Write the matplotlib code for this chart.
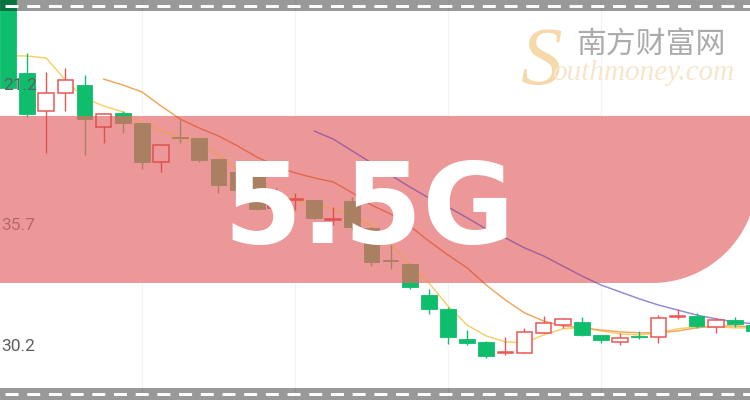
import numpy as np
import matplotlib
matplotlib.use("Agg")
import matplotlib.pyplot as plt
from matplotlib.patches import Rectangle, PathPatch
from matplotlib.path import Path
from matplotlib.lines import Line2D

plt.rcParams['lines.scale_dashes'] = False

# ---------------- data ----------------
opens = [45.61, 41.70, 40.11, 40.86, 41.20, 39.44, 40.02, 39.60, 37.97, 39.00,
         38.97, 38.09, 37.55, 37.67, 36.04, 36.37, 36.37, 35.55, 36.33, 35.20,
         33.83, 33.69, 32.38, 31.80, 30.54, 30.41, 29.93, 29.95, 30.79, 31.12,
         31.25, 30.70, 30.41, 30.64, 30.62, 31.44, 31.50, 31.04, 31.33, 31.12]
closes = [41.07, 39.98, 40.86, 41.41, 39.77, 39.98, 39.60, 37.97, 38.68, 38.96,
          38.05, 37.00, 36.79, 36.00, 36.41, 36.41, 35.62, 35.59, 35.24, 33.77,
          33.79, 32.72, 31.80, 30.62, 30.37, 29.82, 29.97, 30.83, 31.21, 31.38,
          30.70, 30.49, 30.58, 30.60, 31.42, 31.48, 31.08, 31.33, 31.17, 30.87]
highs = [46.45, 42.54, 41.75, 41.91, 41.62, 40.02, 40.11, 39.62, 38.70, 39.73,
         38.99, 38.11, 37.72, 37.72, 36.88, 36.67, 36.39, 36.08, 36.50, 35.22,
         34.48, 33.71, 32.64, 31.88, 30.91, 30.43, 30.62, 31.00, 31.50, 31.40,
         31.46, 30.72, 30.79, 30.87, 31.55, 31.80, 31.63, 31.42, 31.46, 31.20]
lows = [41.03, 39.86, 38.35, 40.11, 38.26, 38.77, 39.18, 37.67, 37.55, 38.77,
        37.97, 36.67, 36.54, 35.95, 35.95, 35.95, 35.57, 35.32, 35.11, 33.60,
        33.48, 32.64, 31.59, 30.33, 30.28, 29.74, 29.86, 29.93, 30.77, 31.00,
        30.66, 30.37, 30.28, 30.54, 30.37, 31.38, 31.00, 30.79, 31.04, 30.80]

ma5 = [42.42, 42.42, 42.33, 41.41, 40.65, 40.32, 40.07, 39.60, 39.31, 38.97,
       38.77, 38.26, 37.63, 37.13, 36.71, 36.37, 36.20, 35.99, 35.70, 35.32,
       34.52, 33.64, 32.89, 31.92, 31.12, 30.66, 30.41, 30.37, 30.70, 30.96,
       31.00, 30.87, 30.75, 30.70, 30.79, 30.96, 31.04, 31.04, 31.00, 31.00]
ma10_start = 5
ma10 = [41.45, 41.20, 40.91, 40.32, 39.77, 39.39, 39.06, 38.64, 38.18, 37.80,
        37.51, 37.30, 37.13, 36.67, 36.16, 35.78, 35.28, 34.65, 34.06, 33.52,
        32.80, 32.17, 31.63, 31.29, 31.08, 31.00, 30.91, 30.83, 30.79, 30.79,
        30.87, 31.00, 31.08, 31.08, 31.04]
ma20_start = 16
ma20 = [39.27, 38.93, 38.43, 37.93, 37.42, 36.92, 36.46, 36.08, 35.62, 35.15,
        34.78, 34.36, 34.02, 33.60, 33.18, 32.80, 32.51, 32.22, 31.96, 31.75,
        31.54, 31.38, 31.25, 31.17]

tick_values = [41.2, 35.32, 30.2]
tick_labels = ["21.2", "35.7", "30.2"]
grid_idx = [7, 15, 23, 31]

headline = "5.5G"
brand_cn = "南方财富网"
brand_s = "S"
brand_en = "outhmoney.com"

# ---------------- styles ----------------
W, H = 750, 400
BANNER = '#ed9898'
normal = dict(up='#ea5656', down='#0fbe6d', up_face='white',
              ma=['#f4d068', '#f0a65e', '#8e8ad4'])
inside = dict(up='#e05050', down='#a98062', up_face=BANNER,
              ma=['#ef9c5c', '#e2694f', '#a0629f'])

fig = plt.figure(figsize=(7.5, 4), dpi=100)
ax = fig.add_axes([0, 0, 1, 1])
ax.set_xlim(-0.418, 38.79)
ax.set_ylim(27.97, 44.77)
ax.axis('off')


def px(x, y):
    return (x / W, 1 - y / H)


for g in grid_idx:
    ax.axvline(g, color='#f3f3f3', lw=0.9, zorder=1)

n = len(opens)
BW = 0.82


def draw(sty, z, clip=None):
    arts = []
    series = [(0, ma5), (ma10_start, ma10), (ma20_start, ma20)]
    for k, (s, vals) in enumerate(series):
        xs = np.arange(s, s + len(vals))
        ln, = ax.plot(xs, vals, color=sty['ma'][k], lw=1.05, zorder=z,
                      solid_capstyle='round')
        arts.append(ln)
    for i in range(n):
        o, c, h, l = opens[i], closes[i], highs[i], lows[i]
        up = c > o
        col = sty['up'] if up else sty['down']
        lo, hi = min(o, c), max(o, c)
        wl = ax.vlines(i, l, h, color=col, lw=1.0, zorder=z + 1)
        arts.append(wl)
        hgt = max(hi - lo, 0.015)
        if up:
            r = Rectangle((i - BW / 2, lo), BW, hgt, facecolor=sty['up_face'],
                          edgecolor=col, lw=1.1, zorder=z + 2)
        else:
            r = Rectangle((i - BW / 2, lo), BW, hgt, facecolor=col,
                          edgecolor=col, lw=0.6, zorder=z + 2)
        ax.add_patch(r)
        arts.append(r)
    if clip is not None:
        for a in arts:
            a.set_clip_path(clip)
    return arts


draw(normal, 2)

# banner with rounded bottom-right corner
R, cx, cy, right, top, bottom = 105, 652, 178, 757, 116, 283
verts = [(-20, top), (right, top), (right, cy)]
for t in np.linspace(0, np.pi / 2, 40):
    verts.append((cx + R * np.cos(t), cy + R * np.sin(t)))
verts += [(-20, bottom), (-20, top)]
verts_ax = [px(x, y) for x, y in verts]
codes = [Path.MOVETO] + [Path.LINETO] * (len(verts_ax) - 2) + [Path.CLOSEPOLY]
banner = PathPatch(Path(verts_ax, codes), transform=ax.transAxes,
                   facecolor=BANNER, edgecolor='none', zorder=5)
ax.add_patch(banner)

draw(inside, 6, clip=banner)

# headline
ax.text(*px(369, 243), headline, transform=ax.transAxes, ha='center',
        va='baseline', fontsize=81, fontweight='bold', color='white',
        family='DejaVu Sans', zorder=10)

# y labels
ytr = ax.get_yaxis_transform()
label_x = [3, 1, 1]
label_col = ['#5e5e5e', '#b56a6a', '#5e5e5e']
for v, t, lx, lc in zip(tick_values, tick_labels, label_x, label_col):
    ax.text(lx / W, v, t, transform=ytr, ha='left', va='center',
            fontsize=12.5, color=lc,
            family=['Liberation Sans Narrow', 'Roboto', 'DejaVu Sans'],
            zorder=11)

# watermark
ax.text(*px(541, 84), brand_s, transform=ax.transAxes, ha='center',
        va='baseline', fontsize=60, style='italic', color='#f6d8aa',
        family='Liberation Serif', zorder=3)
ax.text(*px(552, 80), brand_en, transform=ax.transAxes, ha='left',
        va='baseline', fontsize=21, style='italic', color='#f7e5cc',
        family='Liberation Serif', zorder=3)
ax.text(*px(651, 44), brand_cn, transform=ax.transAxes, ha='center',
        va='center', fontsize=21.5, color='#ababab',
        family=['Noto Sans CJK SC', 'DejaVu Sans'], zorder=3)

# top / bottom gray bands with white dashes
ax.add_patch(Rectangle((0, 1 - 11 / H), 1, 11 / H, transform=ax.transAxes,
                       facecolor='black', alpha=0.4, edgecolor='none',
                       zorder=20))
ax.add_patch(Rectangle((0, 0), 1, 12 / H, transform=ax.transAxes,
                       facecolor='black', alpha=0.4, edgecolor='none',
                       zorder=20))
dash = (12.0, (9.36, 6.26))
for yy in (5.5, 393.5):
    ax.add_line(Line2D([0, 1], [1 - yy / H] * 2, transform=ax.transAxes,
                       color='white', lw=2.1, linestyle=dash, zorder=21))

fig.savefig('out.png', dpi=100)
